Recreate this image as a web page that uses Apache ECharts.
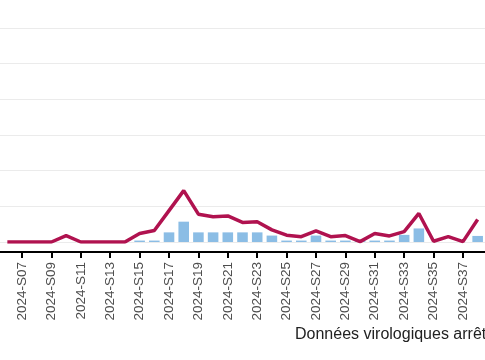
<!DOCTYPE html>
<html><head><meta charset="utf-8">
<script src="https://cdn.jsdelivr.net/npm/echarts@6/dist/echarts.min.js"></script>
<style>html,body{margin:0;padding:0;background:#fff}#c{width:485px;height:360px}</style>
</head><body><div id="c"></div>
<script>
const weeks = ['2024-S06','2024-S07','2024-S08','2024-S09','2024-S10','2024-S11','2024-S12','2024-S13','2024-S14','2024-S15','2024-S16','2024-S17','2024-S18','2024-S19','2024-S20','2024-S21','2024-S22','2024-S23','2024-S24','2024-S25','2024-S26','2024-S27','2024-S28','2024-S29','2024-S30','2024-S31','2024-S32','2024-S33','2024-S34','2024-S35','2024-S36','2024-S37','2024-S38'];
const lineValues = [0,0,0,0,0.18,0,0,0,0,0.24,0.32,0.88,1.44,0.78,0.71,0.73,0.55,0.57,0.34,0.19,0.15,0.31,0.15,0.18,0.01,0.24,0.17,0.29,0.80,0.02,0.15,0.01,0.63];
const barValues = [null,null,null,null,null,null,null,null,null,0.04,0.04,0.27,0.57,0.27,0.27,0.27,0.27,0.27,0.18,0.04,0.04,0.18,0.04,0.04,0.04,0.04,0.04,0.20,0.38,null,null,null,0.17];
const footnote = 'Données virologiques arrêtées';

const chart = echarts.init(document.getElementById('c'));
const oddOnly = (i) => i % 2 === 1;
chart.setOption({
  animation: false,
  grid: {left: -9.9, right: -10.6, top: 28, bottom: 118},
  xAxis: {
    type: 'category', data: weeks, offset: 10, position: 'bottom',
    axisLine: {show: true, onZero: false, lineStyle: {color: '#000', width: 2}},
    axisTick: {show: true, inside: false, alignWithLabel: true, interval: oddOnly, length: 6, lineStyle: {color: '#000', width: 2}},
    axisLabel: {interval: oddOnly, rotate: 90, margin: 10, color: '#4d4d4d', fontSize: 13.5, fontFamily: 'Liberation Sans, Arial, sans-serif'}
  },
  yAxis: {
    type: 'value', min: 0, max: 6, interval: 1,
    axisLabel: {show: false}, axisLine: {show: false}, axisTick: {show: false},
    splitLine: {lineStyle: {color: '#ebebeb', width: 1}}
  },
  series: [
    {type: 'bar', data: barValues, barWidth: '72%', itemStyle: {color: '#8bbde5'}},
    {type: 'line', data: lineValues, symbol: 'none', lineStyle: {color: '#b0124f', width: 3.5}, z: 5}
  ],
  graphic: [{type: 'text', left: 295, top: 327, style: {text: footnote, fill: '#222', font: '16px "Liberation Sans", Arial, sans-serif'}}]
});
</script></body></html>
